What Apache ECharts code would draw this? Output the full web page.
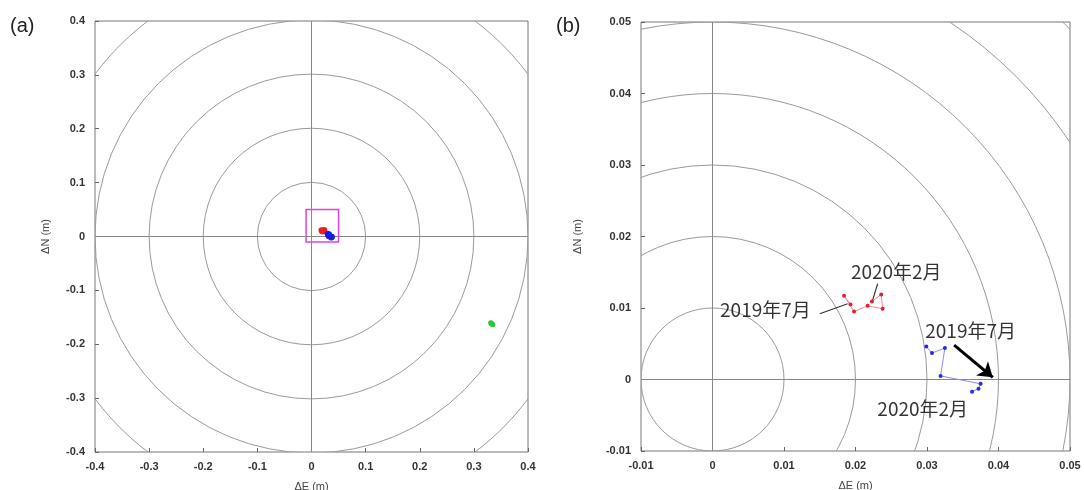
<!DOCTYPE html>
<html>
<head>
<meta charset="utf-8">
<script src="https://cdn.jsdelivr.net/npm/echarts@6/dist/echarts.min.js"></script>
<style>
html, body { margin: 0; padding: 0; background: #fff; }
#container { width: 1084px; height: 490px; }
</style>
</head>
<body>
<div id="container"></div>
<script>
// 数据 (m)
var redE = [0.0193, 0.0184, 0.0198, 0.0217, 0.0238, 0.0236, 0.0223];
var redN = [0.0105, 0.0117, 0.0095, 0.0103, 0.0099, 0.0119, 0.0109];
var blueE = [0.0299, 0.0307, 0.0325, 0.0319, 0.0375, 0.0372, 0.0363];
var blueN = [0.0046, 0.0037, 0.0044, 0.0005, -0.0006, -0.0013, -0.0017];
var greenE = [0.331, 0.333, 0.334, 0.335, 0.332];
var greenN = [-0.160, -0.161, -0.163, -0.164, -0.162];

var ringsA = [0.1, 0.2, 0.3, 0.4, 0.5, 0.6];
var ringsB = [0.01, 0.02, 0.03, 0.04, 0.05, 0.06, 0.07];
var zoomBox = [-0.01, 0.05, 0.05, -0.01];

var ticksA = [-0.4, 0.4, 0.1];
var ticksB = [-0.01, 0.05, 0.01];

// 注记
var notes = [
    {name: '2020年2月', value: [0.0257, 0.0150]},
    {name: '2019年7月', value: [0.0074, 0.0098]},
    {name: '2019年7月', value: [0.0361, 0.0068]},
    {name: '2020年2月', value: [0.0294, -0.0041]}
];
var leaders = [
    [[0.0150, 0.0092], [0.0189, 0.0106]],
    [[0.0231, 0.0134], [0.0224, 0.0111]]
];
var arrow = [[0.0338, 0.0048], [0.0392, 0.0003]];

function zip(a, b) {
    var d = [];
    for (var i = 0; i < a.length; i++) d.push([a[i], b[i]]);
    return d;
}

var dom = document.getElementById('container');
var myChart = echarts.init(dom);

var labelFont = {color: '#333', fontSize: 11, fontWeight: 'bold', fontFamily: 'Liberation Sans'};

function makeX(idx, t) {
    return {
        gridIndex: idx, type: 'value', min: t[0], max: t[1], interval: t[2],
        name: 'ΔE (m)', nameLocation: 'middle', nameGap: 29,
        nameTextStyle: {color: '#444', fontSize: 11, fontFamily: 'Liberation Sans'},
        axisLine: {show: false, onZero: false},
        axisTick: {inside: true, length: 4, lineStyle: {color: '#666'}},
        axisLabel: Object.assign({margin: 9, formatter: function (v) { return +v.toFixed(3) + ''; }}, labelFont),
        splitLine: {show: false}
    };
}
function makeY(idx, t, gap) {
    return {
        gridIndex: idx, type: 'value', min: t[0], max: t[1], interval: t[2],
        name: 'ΔN (m)', nameLocation: 'middle', nameGap: gap, nameRotate: 90,
        nameTextStyle: {color: '#444', fontSize: 11, fontFamily: 'Liberation Sans'},
        axisLine: {show: false, onZero: false},
        axisTick: {inside: true, length: 4, lineStyle: {color: '#666'}},
        axisLabel: Object.assign({margin: 10, formatter: function (v) { return +v.toFixed(3) + ''; }}, labelFont),
        splitLine: {show: false}
    };
}

function rings(idx, radii) {
    return {
        type: 'custom', xAxisIndex: idx, yAxisIndex: idx, silent: true, z: 1,
        data: radii.map(function (r) { return [0, 0, r]; }),
        renderItem: function (params, api) {
            var c = api.coord([api.value(0), api.value(1)]);
            var s = api.size([api.value(2), api.value(2)]);
            var cs = params.coordSys;
            return {
                type: 'circle',
                shape: {cx: c[0], cy: c[1], r: s[0]},
                style: {fill: 'none', stroke: '#9a9a9a', lineWidth: 1},
                clipPath: {type: 'rect', shape: {x: cs.x, y: cs.y, width: cs.width, height: cs.height}}
            };
        }
    };
}

function cross(idx, extra) {
    var s = {
        type: 'line', xAxisIndex: idx, yAxisIndex: idx, data: [], silent: true, z: 2,
        markLine: {
            silent: true, symbol: 'none', animation: false,
            label: {show: false},
            lineStyle: {color: '#888', width: 1, type: 'solid'},
            data: [{xAxis: 0}, {yAxis: 0}]
        }
    };
    if (extra) s.markArea = extra;
    return s;
}

function pts(idx, data, color, lineColor, size, showLine) {
    return {
        type: 'line', xAxisIndex: idx, yAxisIndex: idx, data: data, z: 5,
        symbol: 'circle', symbolSize: size, silent: true, animation: false,
        itemStyle: {color: color},
        lineStyle: showLine ? {color: lineColor, width: 1} : {width: 0, opacity: 0}
    };
}

var option = {
    animation: false,
    grid: [
        {left: 95, top: 21, width: 433, height: 431, outerBoundsMode: 'none', show: true, borderColor: '#777', borderWidth: 1, backgroundColor: '#fff'},
        {left: 641, top: 22, width: 429, height: 429, outerBoundsMode: 'none', show: true, borderColor: '#777', borderWidth: 1, backgroundColor: '#fff'}
    ],
    xAxis: [makeX(0, ticksA), makeX(1, ticksB)],
    yAxis: [makeY(0, ticksA, 44), makeY(1, ticksB, 58)],
    graphic: [
        {type: 'text', left: 10, top: 16, style: {text: '(a)', fontSize: 20, fontFamily: 'Liberation Sans', fill: '#222'}},
        {type: 'text', left: 556, top: 16, style: {text: '(b)', fontSize: 20, fontFamily: 'Liberation Sans', fill: '#222'}}
    ],
    series: [
        rings(0, ringsA),
        rings(1, ringsB),
        cross(0, {
            silent: true,
            itemStyle: {color: 'rgba(255,255,255,0)', borderColor: '#e040e0', borderWidth: 1.5},
            data: [[{coord: [zoomBox[0], zoomBox[1]]}, {coord: [zoomBox[2], zoomBox[3]]}]]
        }),
        cross(1),
        pts(0, zip(greenE, greenN), '#22cc33', '#22cc33', 5, false),
        pts(0, zip(redE, redN), '#e8202a', '#e8202a', 6, false),
        pts(0, zip(blueE, blueN), '#1a1ae6', '#1a1ae6', 6, false),
        pts(1, zip(redE, redN), '#e0203a', '#f08a8a', 4, true),
        pts(1, zip(blueE, blueN), '#2a2ad8', '#8a8aff', 4, true),
        {
            type: 'scatter', xAxisIndex: 1, yAxisIndex: 1, data: notes, symbolSize: 0, z: 6, silent: true,
            label: {
                show: true, position: 'inside', formatter: '{b}',
                color: '#000', fontSize: 19, fontFamily: 'Noto Sans CJK JP'
            },
            markLine: {
                silent: true, animation: false, label: {show: false},
                symbol: 'none',
                lineStyle: {color: '#333', width: 1.2, type: 'solid'},
                data: leaders.map(function (l) {
                    return [{coord: l[0]}, {coord: l[1]}];
                }).concat([[
                    {coord: arrow[0], symbol: 'none', lineStyle: {color: '#000', width: 3}},
                    {coord: arrow[1], symbol: 'arrow', symbolSize: 14}
                ]])
            }
        }
    ]
};
myChart.setOption(option);
</script>
</body>
</html>
